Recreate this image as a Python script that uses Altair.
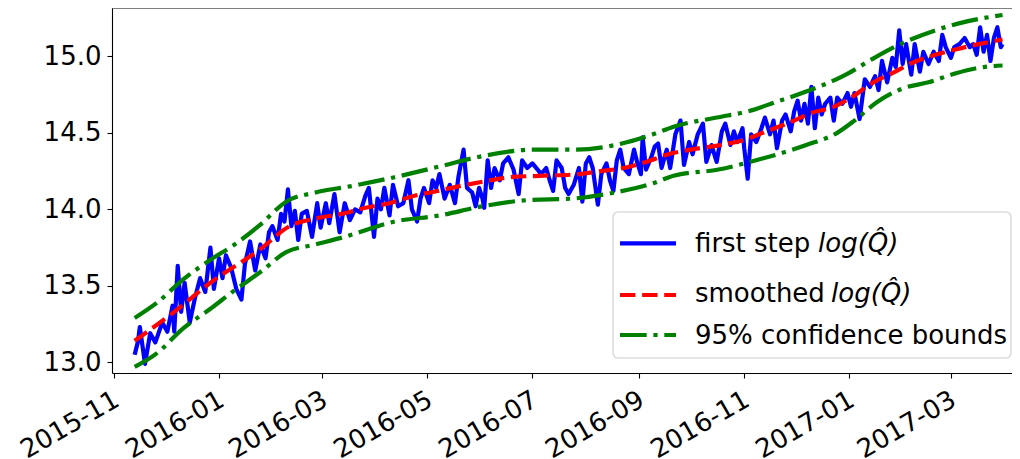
import altair as alt
import pandas as pd

# ---------------- data ----------------
BASE = "2015-11-01"  # day 0

blue_days = [12, 14, 15, 18, 21, 24, 28, 31, 34, 35, 37, 39, 41, 44, 47, 50, 53, 56, 58, 61,
             63, 65, 68, 71, 74, 76, 79, 82, 85, 88, 90, 92, 95, 97, 99, 101, 103, 105, 107, 109,
             112, 115, 118, 120, 123, 125, 128, 131, 134, 137, 140, 143, 146, 148, 151, 153, 155, 157, 160, 162,
             165, 168, 171, 173, 176, 178, 180, 183, 185, 187, 189, 192, 195, 198, 200, 203, 205, 208, 210, 212,
             214, 215, 217, 219, 221, 224, 226, 229, 232, 235, 237, 240, 243, 246, 248, 251, 253, 255, 257, 260,
             262, 264, 267, 270, 272, 274, 276, 278, 281, 283, 286, 288, 290, 292, 294, 296, 299, 302, 304, 306,
             307, 309, 312, 314, 316, 318, 321, 323, 326, 329, 331, 334, 336, 339, 342, 344, 347, 350, 353, 355,
             358, 360, 362, 365, 366, 368, 370, 373, 376, 378, 381, 383, 385, 388, 390, 393, 395, 397, 399, 401,
             403, 405, 407, 409, 411, 413, 416, 418, 420, 423, 426, 428, 430, 433, 436, 439, 442, 444, 446, 449,
             452, 454, 456, 458, 460, 463, 465, 468, 470, 473, 476, 479, 481, 483, 486, 488, 491, 494, 497, 499,
             501, 503, 505, 507, 509, 511, 513, 515, 516]
blue_vals = [13.05, 13.14, 13.23, 12.99, 13.19, 13.13, 13.26, 13.20, 13.37, 13.20, 13.63, 13.33, 13.52, 13.26, 13.42, 13.55, 13.46, 13.75, 13.48, 13.68,
             13.55, 13.70, 13.62, 13.48, 13.41, 13.64, 13.79, 13.60, 13.77, 13.68, 13.85, 13.89, 13.80, 13.97, 13.92, 14.13, 13.89, 13.99, 13.80, 13.97,
             13.99, 13.82, 14.04, 13.88, 14.04, 13.91, 14.10, 13.85, 14.04, 13.93, 14.00, 13.98, 14.09, 14.14, 13.82, 14.07, 14.00, 14.14, 13.96, 14.16,
             14.02, 14.04, 14.19, 14.00, 13.92, 14.07, 14.14, 14.04, 14.19, 14.14, 14.23, 14.07, 14.16, 14.04, 14.21, 14.39, 14.14, 14.11, 14.02, 14.14,
             14.07, 14.01, 14.32, 14.14, 14.27, 14.19, 14.30, 14.34, 14.26, 14.10, 14.32, 14.27, 14.30, 14.26, 14.23, 14.27, 14.19, 14.12, 14.32, 14.27,
             14.14, 14.10, 14.16, 14.27, 14.05, 14.30, 14.34, 14.27, 14.03, 14.23, 14.30, 14.19, 14.12, 14.32, 14.39, 14.27, 14.23, 14.39, 14.30, 14.23,
             14.47, 14.26, 14.34, 14.41, 14.43, 14.27, 14.39, 14.27, 14.49, 14.58, 14.29, 14.44, 14.36, 14.49, 14.56, 14.31, 14.42, 14.31, 14.51, 14.56,
             14.42, 14.51, 14.44, 14.53, 14.40, 14.20, 14.49, 14.44, 14.53, 14.60, 14.49, 14.58, 14.40, 14.58, 14.62, 14.51, 14.64, 14.71, 14.58, 14.69,
             14.56, 14.80, 14.53, 14.73, 14.62, 14.69, 14.73, 14.58, 14.73, 14.69, 14.76, 14.67, 14.76, 14.59, 14.85, 14.80, 14.87, 14.78, 14.97, 14.83,
             14.99, 14.93, 15.17, 14.95, 15.08, 14.88, 15.08, 14.90, 15.03, 14.95, 15.03, 14.97, 15.14, 15.06, 14.99, 15.06, 15.08, 15.12, 15.06, 15.08,
             15.01, 15.19, 15.03, 15.14, 14.97, 15.12, 15.19, 15.06, 15.08]

smooth_days = [12, 35, 56, 85, 102, 117, 132, 146, 160, 175, 188, 200, 214, 230, 250, 270, 283, 296,
               309, 322, 335, 352, 365, 379, 393, 405, 418, 428, 441, 452, 464, 477, 487, 502, 516]
smooth_vals = [13.14, 13.33, 13.52, 13.74, 13.89, 13.94, 13.97, 14.01, 14.04, 14.09, 14.12, 14.15, 14.18, 14.21, 14.22, 14.23, 14.25, 14.27,
               14.31, 14.36, 14.39, 14.42, 14.45, 14.51, 14.57, 14.63, 14.67, 14.73, 14.83, 14.89, 14.96, 15.01, 15.04, 15.08, 15.11]

upper_days = [12, 25, 40, 56, 70, 85, 100, 117, 137, 163, 189, 215, 243, 268, 291, 313, 325, 350,
              368, 384, 402, 425, 440, 453, 477, 496, 516]
upper_vals = [13.29, 13.39, 13.54, 13.67, 13.77, 13.90, 14.05, 14.11, 14.15, 14.21, 14.28, 14.35, 14.39, 14.39, 14.42, 14.49, 14.54, 14.60,
              14.64, 14.70, 14.77, 14.88, 14.98, 15.06, 15.17, 15.23, 15.27]

lower_days = [12, 25, 40, 56, 70, 85, 100, 117, 134, 163, 189, 214, 240, 266, 291, 313, 325, 351,
              376, 402, 420, 430, 443, 458, 473, 489, 505, 516]
lower_vals = [12.97, 13.06, 13.22, 13.35, 13.47, 13.59, 13.72, 13.77, 13.82, 13.92, 13.96, 14.02, 14.06, 14.07, 14.11, 14.17, 14.22, 14.26,
              14.33, 14.42, 14.50, 14.58, 14.70, 14.79, 14.83, 14.89, 14.93, 14.94]

y_ticks = [13.0, 13.5, 14.0, 14.5, 15.0]
x_tick_months = [(2015, 11), (2016, 1), (2016, 3), (2016, 5), (2016, 7), (2016, 9), (2016, 11), (2017, 1), (2017, 3)]

legend_labels = ["first step ", "smoothed ", "95% confidence bounds"]
legend_math = "log(Q\u0302)"

# ---------------- build ----------------
base = pd.Timestamp(BASE)


def frame(days, vals):
    return pd.DataFrame({
        "date": [(base + pd.Timedelta(days=d)).strftime("%Y-%m-%dT%H:%M:%SZ") for d in days],
        "value": vals,
    })


blue_df = frame(blue_days, blue_vals)
red_df = frame(smooth_days, smooth_vals)
up_df = frame(upper_days, upper_vals)
lo_df = frame(lower_days, lower_vals)

W, H = 900, 365
FONT = "DejaVu Sans"
FS = 26
LW = 4.2
RED_DASH = [15.4, 6.7]
GREEN_DASH = [26.7, 6.7, 4.2, 6.7]

x_enc = alt.X(
    "date:T",
    title=None,
    scale=alt.Scale(
        type="utc",
        domain=[alt.DateTime(year=2015, month=10, date=30, hours=20, utc=True),
                alt.DateTime(year=2017, month=4, date=5, hours=12, utc=True)],
        nice=False,
    ),
    axis=alt.Axis(
        values=[alt.DateTime(year=y, month=m, date=1, utc=True) for y, m in x_tick_months],
        labelExpr="utcFormat(datum.value, '%Y-%m')",
        labelOverlap=False,
        labelAngle=330, labelAlign="right", labelBaseline="top",
        labelPadding=8, labelOffset=-4,
    ),
)
y_enc = alt.Y(
    "value:Q",
    title=None,
    scale=alt.Scale(domain=[12.930, 15.316], nice=False, zero=False),
    axis=alt.Axis(values=y_ticks, format=".1f", labelPadding=6),
)

blue = alt.Chart(blue_df).mark_line(color="#0000ff", strokeWidth=LW, strokeJoin="round").encode(x=x_enc, y=y_enc)
red = alt.Chart(red_df).mark_line(color="#ff0000", strokeWidth=LW, strokeDash=RED_DASH,
                                   interpolate="monotone").encode(x=x_enc, y=y_enc)
up = alt.Chart(up_df).mark_line(color="#008000", strokeWidth=LW, strokeDash=GREEN_DASH,
                                 interpolate="monotone").encode(x=x_enc, y=y_enc)
lo = alt.Chart(lo_df).mark_line(color="#008000", strokeWidth=LW, strokeDash=GREEN_DASH,
                                 interpolate="monotone").encode(x=x_enc, y=y_enc)

one = pd.DataFrame({"k": [0]})

top_line = alt.Chart(one).mark_rule(color="black", strokeWidth=1.1).encode(
    x=alt.value(0), x2=alt.value(W), y=alt.value(0))

leg_box = alt.Chart(one).mark_rect(fill="white", fillOpacity=0.8, stroke="#cccccc", strokeWidth=1.1,
                                   cornerRadius=5).encode(
    x=alt.value(501), x2=alt.value(899), y=alt.value(204), y2=alt.value(350))

leg_layers = [leg_box]
rows = [
    ("#0000ff", None, 235.3, 243.7, legend_labels[0], 706),
    ("#ff0000", RED_DASH, 287.0, 293.7, legend_labels[1], 719),
    ("#008000", GREEN_DASH, 327.0, 336.0, legend_labels[2], None),
]
for color, dash, ly, ty, label, mx in rows:
    kw = dict(color=color, strokeWidth=LW)
    if dash:
        kw["strokeDash"] = dash
    leg_layers.append(alt.Chart(one).mark_rule(**kw).encode(
        x=alt.value(508), x2=alt.value(564), y=alt.value(ly)))
    leg_layers.append(alt.Chart(one).mark_text(align="left", baseline="alphabetic", font=FONT,
                                               fontSize=FS, color="black").encode(
        x=alt.value(583), y=alt.value(ty), text=alt.value(label)))
    if mx is not None:
        leg_layers.append(alt.Chart(one).mark_text(align="left", baseline="alphabetic", font=FONT,
                                                   fontSize=FS, fontStyle="italic", color="black").encode(
            x=alt.value(mx), y=alt.value(ty), text=alt.value(legend_math)))

chart = alt.layer(blue, red, up, lo, top_line, *leg_layers).properties(
    width=W, height=H,
    padding={"left": 104, "top": 0, "right": 0, "bottom": 86},
    autosize=alt.AutoSizeParams(type="none"),
).configure_view(stroke=None).configure_axis(
    grid=False,
    domainColor="black", domainWidth=1.1,
    tickColor="black", tickWidth=1.1, tickSize=5,
    labelFont=FONT, labelFontSize=FS, labelColor="black",
)

chart.save("out.html", embed_options={"renderer": "svg", "actions": False})
